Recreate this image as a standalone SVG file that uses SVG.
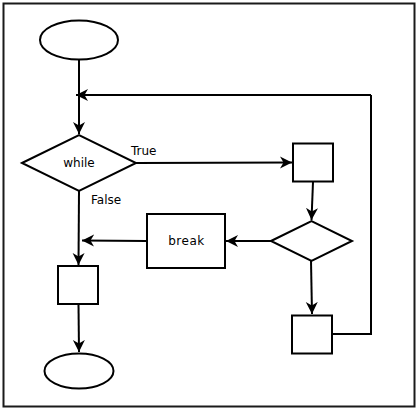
<svg xmlns="http://www.w3.org/2000/svg" width="416" height="409" viewBox="0 0 416 409">
  <style>
    .shape { fill: #ffffff; stroke: #000000; stroke-width: 2; }
    .edge { fill: none; stroke: #000000; stroke-width: 2; }
    .arrow { marker-end: url(#head); }
    text { font-family: "DejaVu Sans", "Liberation Sans", sans-serif; font-size: 12px; fill: #000000; }
    .mid { text-anchor: middle; }
  </style>
  <defs>
    <marker id="head" markerUnits="userSpaceOnUse" markerWidth="14" markerHeight="14" refX="12" refY="6.5" orient="auto">
      <path d="M0,0.5 L12,6.5 L0,12.5 L3.5,6.5 Z" fill="#000000"/>
    </marker>
  </defs>

  <rect x="3.5" y="3.5" width="411" height="403" fill="#ffffff" stroke="#1a1a1a" stroke-width="2"/>

  <g id="connectors">
    <path class="edge arrow" d="M79,60 L79,134"/>
    <path class="edge arrow" d="M371,95 L76,95"/>
    <path class="edge arrow" d="M136,163 L292,162.5"/>
    <text x="131" y="155">True</text>
    <path class="edge arrow" d="M313,182 L311.5,220"/>
    <path class="edge arrow" d="M271,241 L226,241"/>
    <path class="edge arrow" d="M147,241 L82,240.5"/>
    <path class="edge arrow" d="M79,191 L78.5,265"/>
    <text x="91" y="203.5">False</text>
    <path class="edge arrow" d="M311,261 L312,314"/>
    <path class="edge arrow" d="M78.5,304 L79,352"/>
    <path class="edge" d="M332,334 L371,334 L371,95"/>
  </g>

  <g id="start">
    <ellipse class="shape" cx="79" cy="40" rx="39" ry="19.5"/>
  </g>
  <g id="while">
    <polygon class="shape" points="22,163 79,135 136,163 79,191"/>
    <text class="mid" x="79" y="166.5">while</text>
  </g>
  <g id="body">
    <rect class="shape" x="293" y="143.5" width="40" height="38"/>
  </g>
  <g id="check">
    <polygon class="shape" points="271,241 311.5,221 352,241 311.5,261"/>
  </g>
  <g id="break">
    <rect class="shape" x="147" y="214" width="78" height="54"/>
    <text class="mid" x="186.5" y="245" letter-spacing="0.5">break</text>
  </g>
  <g id="next">
    <rect class="shape" x="292" y="315.5" width="40" height="38"/>
  </g>
  <g id="after">
    <rect class="shape" x="58" y="266" width="40" height="38"/>
  </g>
  <g id="end">
    <ellipse class="shape" cx="79" cy="371" rx="34.5" ry="17.5"/>
  </g>
</svg>
